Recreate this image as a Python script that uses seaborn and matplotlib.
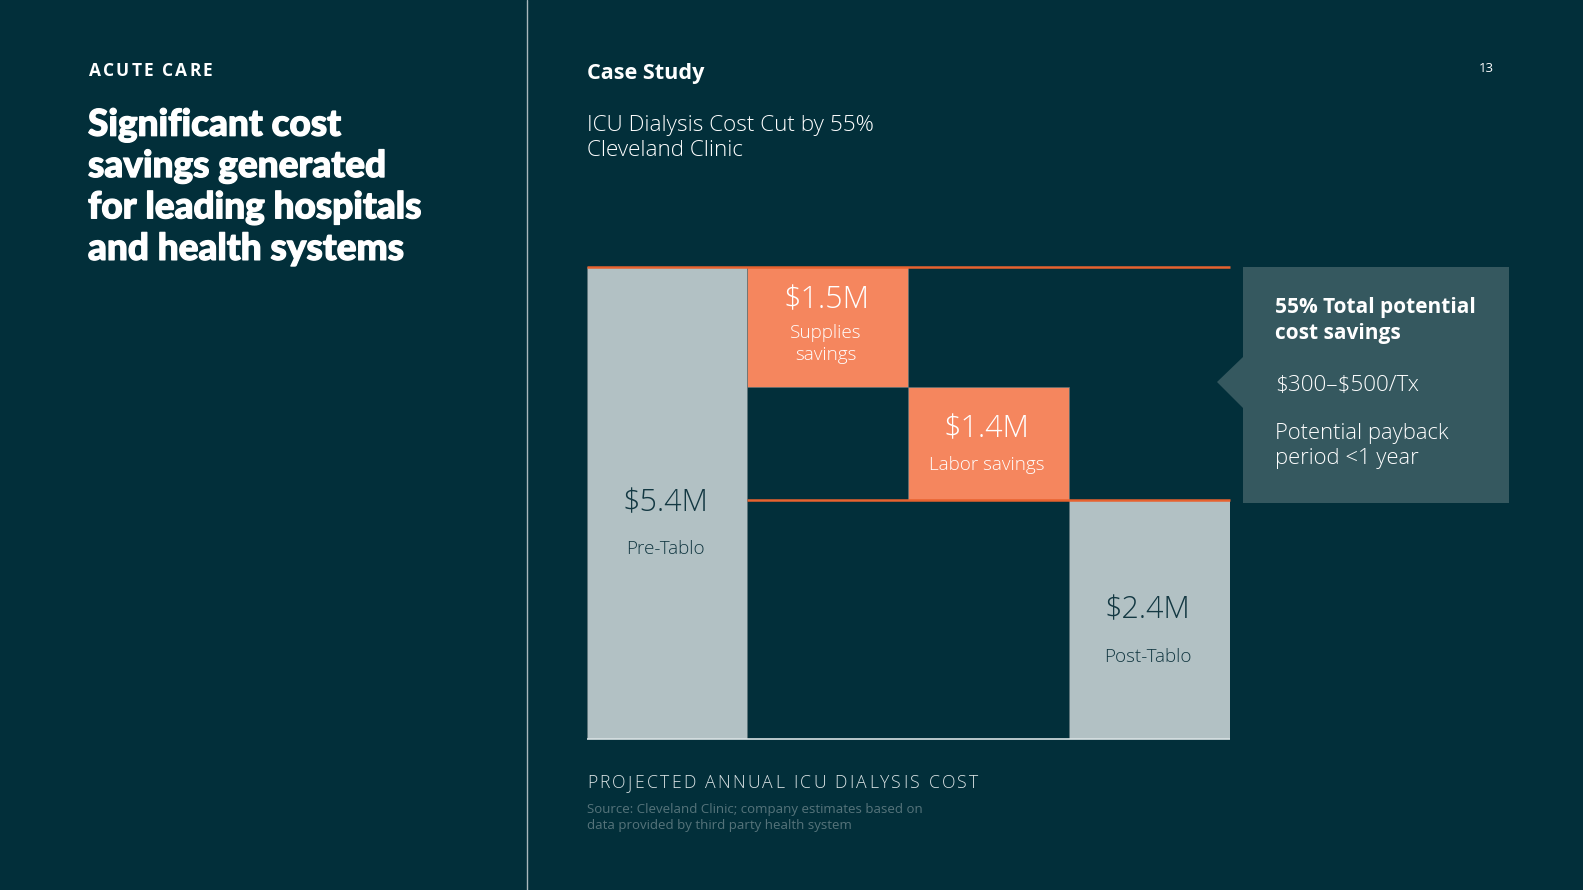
import pandas as pd
import matplotlib
matplotlib.use("Agg")
import matplotlib.pyplot as plt
import seaborn as sns
from matplotlib.patches import Polygon
from matplotlib.lines import Line2D
import matplotlib.patheffects as pe

# waterfall steps (heights as drawn, in $M)
steps = ["Pre-Tablo", "Supplies savings", "Labor savings", "Post-Tablo"]
heights = [5.4, 1.38, 1.29, 2.73]
kinds = ["total", "saving", "saving", "total"]
value_labels = ["\\$5.4M", "\\$1.5M", "\\$1.4M", "\\$2.4M"]
name_labels = ["Pre-Tablo", "Supplies\nsavings", "Labor savings", "Post-Tablo"]

BG = "#022F3A"
GREY = "#B2C1C4"
ORANGE = "#F5865E"
LINE_ORANGE = "#E8622F"
CALLOUT = "#35585F"
DARK_TXT = "#133842"

W, H = 1583, 890

sns.set_theme(style="white")
plt.rcParams["font.family"] = ["Open Sans", "DejaVu Sans"]


def px(x, y):
    return x / W, 1 - y / H


def spaced_text(x, y, s, track, **kw):
    # letter-spaced text, y is the baseline in pixels
    r = fig.canvas.get_renderer()
    for i, ch in enumerate(s):
        if ch == " ":
            continue
        probe = fig.text(0, 0, s[:i + 1], **kw)
        w = probe.get_window_extent(renderer=r).width
        probe.remove()
        fig.text(*px(x + w + i * track, y), ch, ha="right", va="baseline", **kw)


# bottoms for the waterfall
bottoms = []
level = 0
for h, k in zip(heights, kinds):
    if k == "total":
        bottoms.append(0)
        level = h
    else:
        level = level - h
        bottoms.append(level)

fig = plt.figure(figsize=(W / 100, H / 100), dpi=100, facecolor=BG)

# chart axes
x0, y0 = px(586.5, 739)
x1, y1 = px(1229.5, 266.5)
ax = fig.add_axes([x0, y0, x1 - x0, y1 - y0])
ax.set_facecolor(BG)

df = pd.DataFrame({"step": steps, "height": heights})
pal = {s: (GREY if k == "total" else ORANGE) for s, k in zip(steps, kinds)}
sns.barplot(data=df, x="step", y="height", hue="step", palette=pal, width=1,
            dodge=False, legend=False, saturation=1, ax=ax,
            edgecolor="#5d7378", linewidth=0.5)
for p, b in zip(ax.patches, bottoms):
    p.set_y(b)

ax.set_xlim(-0.5, 3.5)
ax.set_ylim(0, 5.4)
ax.axis("off")

# connector lines
ax.plot([-0.5, 3.5], [5.4, 5.4], color=LINE_ORANGE, lw=1.8, clip_on=False, solid_capstyle="butt")
ax.plot([0.5, 3.5], [heights[3], heights[3]], color=LINE_ORANGE, lw=1.8, clip_on=False, solid_capstyle="butt")
ax.plot([-0.5, 3.5], [0, 0], color="#D9E2E4", lw=1.2, clip_on=False, solid_capstyle="butt")

# labels inside the bars
val_y = [2.69, 5.02, 3.54, 1.47]
name_y = [2.17, 4.51, 3.13, 0.94]
for i in range(len(steps)):
    c = DARK_TXT if kinds[i] == "total" else "white"
    ax.text(i - 0.01, val_y[i], value_labels[i], ha="center", va="center", color=c,
            fontsize=22, fontweight="light")
    ax.text(i - 0.01, name_y[i], name_labels[i], ha="center", va="center", color=c,
            fontsize=13.6, fontweight="light", linespacing=1.3)

# divider
fig.add_artist(Line2D([527 / W, 527 / W], [0, 1], color="#A9B8BC", lw=1))

# left panel
spaced_text(89, 75.7, "ACUTE CARE", 2.1, color="white", fontsize=12.5, fontweight="bold")
title = ["Significant cost", "savings generated", "for leading hospitals", "and health systems"]
for j, line in enumerate(title):
    fig.text(*px(88, 125 + j * 41.3), line, color="white", fontsize=26.6,
             fontweight="black", va="center", ha="left", family=["Lato", "DejaVu Sans"],
             path_effects=[pe.withStroke(linewidth=0.9, foreground="white")])

# right panel header
fig.text(*px(587, 73), "Case Study", color="white", fontsize=15.6,
         fontweight="bold", va="center", ha="left")
fig.text(*px(587, 125), "ICU Dialysis Cost Cut by 55%", color="white",
         fontsize=16.2, fontweight="light", va="center", ha="left")
fig.text(*px(587, 150.5), "Cleveland Clinic", color="white",
         fontsize=16.2, fontweight="light", va="center", ha="left")
fig.text(*px(1486, 68), "13", color="white", fontsize=9.5, va="center", ha="center")

# callout box with pointer
pts = [(1243, 267), (1509, 267), (1509, 503), (1243, 503), (1243, 408),
       (1217, 382), (1243, 357)]
fig.add_artist(Polygon([px(*p) for p in pts], closed=True, facecolor=CALLOUT,
                       edgecolor="none", transform=fig.transFigure))
fig.text(*px(1275, 307.5), "55% Total potential", color="white", fontsize=15,
         fontweight="bold", va="center", ha="left")
fig.text(*px(1275, 333.5), "cost savings", color="white", fontsize=15,
         fontweight="bold", va="center", ha="left")
fig.text(*px(1275, 385.5), "\\$300\u2013\\$500/Tx", color="white", fontsize=16.2,
         fontweight="light", va="center", ha="left")
fig.text(*px(1275, 433), "Potential payback", color="white", fontsize=15.8,
         fontweight="light", va="center", ha="left")
fig.text(*px(1275, 458.5), "period <1 year", color="white", fontsize=15.8,
         fontweight="light", va="center", ha="left")

# footer
spaced_text(587, 788.3, "PROJECTED ANNUAL ICU DIALYSIS COST", 2.25, color="#DCE4E6",
            fontsize=12.7, fontweight="light")
fig.text(*px(587, 809), "Source: Cleveland Clinic; company estimates based on",
         color="#56747B", fontsize=9.5, va="center", ha="left")
fig.text(*px(587, 825.5), "data provided by third party health system",
         color="#56747B", fontsize=9.5, va="center", ha="left")

fig.savefig("out.png", dpi=100, facecolor=BG)
